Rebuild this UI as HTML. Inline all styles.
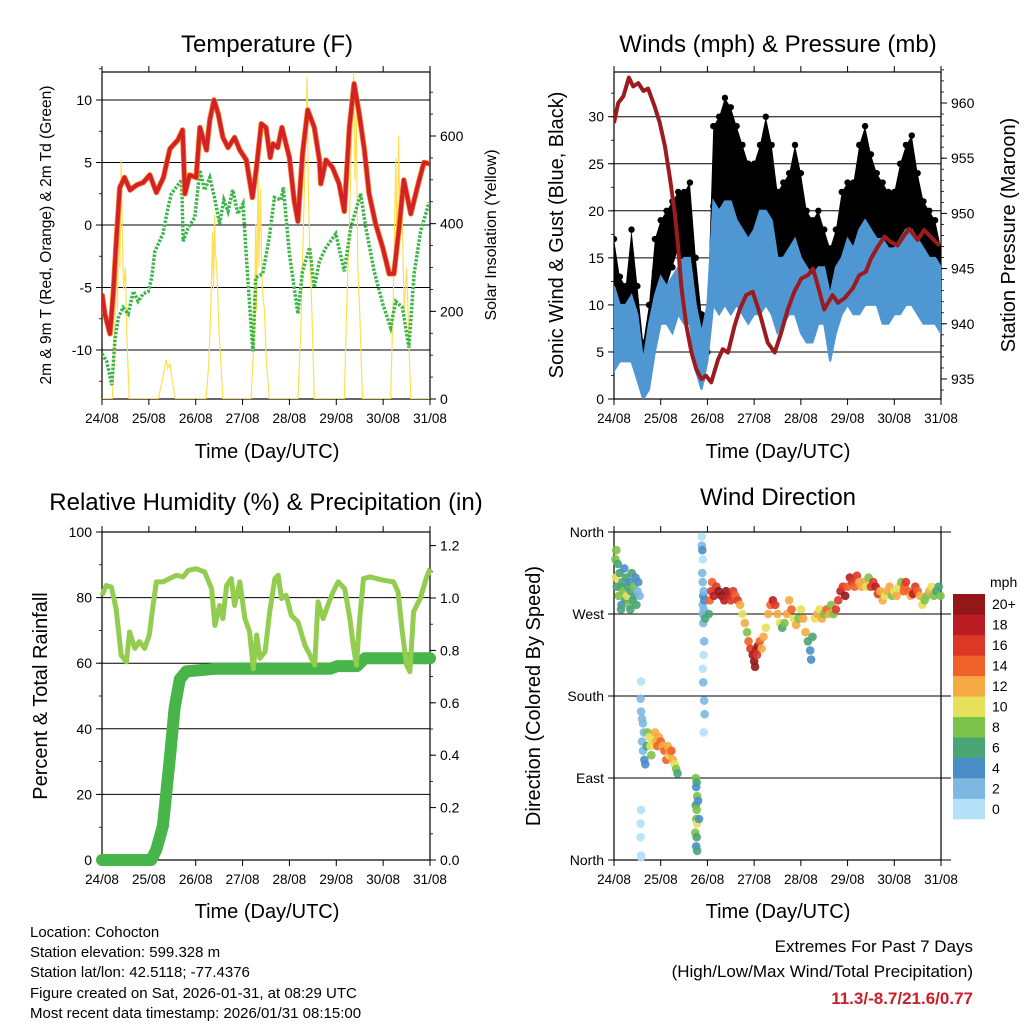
<!DOCTYPE html>
<html><head><meta charset="utf-8"><title>Station Meteogram</title>
<style>
html,body{margin:0;padding:0;background:#fff;}
svg{display:block;font-family:"Liberation Sans",Arial,sans-serif;}
</style></head>
<body>
<svg id="chart" width="1024" height="1024" viewBox="0 0 1024 1024" xmlns="http://www.w3.org/2000/svg">
<rect x="0" y="0" width="1024" height="1024" fill="#fff"/>
<g id="content"></g>
<text x="267" y="52" font-size="24" text-anchor="middle">Temperature (F)</text>
<text x="778" y="52" font-size="24" text-anchor="middle">Winds (mph) &amp; Pressure (mb)</text>
<text x="266" y="510" font-size="24" text-anchor="middle">Relative Humidity (%) &amp; Precipitation (in)</text>
<text x="778" y="505" font-size="24" text-anchor="middle">Wind Direction</text>
<text x="267" y="458" font-size="20" text-anchor="middle">Time (Day/UTC)</text>
<text x="778" y="458" font-size="20" text-anchor="middle">Time (Day/UTC)</text>
<text x="267" y="918" font-size="20" text-anchor="middle">Time (Day/UTC)</text>
<text x="778" y="918" font-size="20" text-anchor="middle">Time (Day/UTC)</text>
<text transform="translate(51,235) rotate(-90)" font-size="15.5" text-anchor="middle">2m &amp; 9m T (Red, Orange) &amp; 2m Td (Green)</text>
<text transform="translate(496,235) rotate(-90)" font-size="16" text-anchor="middle">Solar Insolation (Yellow)</text>
<text transform="translate(563,235) rotate(-90)" font-size="20" text-anchor="middle">Sonic Wind &amp; Gust (Blue, Black)</text>
<text transform="translate(1015,235) rotate(-90)" font-size="20" text-anchor="middle">Station Pressure (Maroon)</text>
<text transform="translate(47,696) rotate(-90)" font-size="20" text-anchor="middle">Percent &amp; Total Rainfall</text>
<text transform="translate(540,696) rotate(-90)" font-size="20" text-anchor="middle">Direction (Colored By Speed)</text>
<g font-size="15">
<text x="30" y="937">Location: Cohocton</text>
<text x="30" y="957">Station elevation: 599.328 m</text>
<text x="30" y="977">Station lat/lon: 42.5118; -77.4376</text>
<text x="30" y="998">Figure created on Sat, 2026-01-31, at 08:29 UTC</text>
<text x="30" y="1018">Most recent data timestamp: 2026/01/31 08:15:00</text>
</g>
<text x="973" y="952" font-size="17" text-anchor="end">Extremes For Past 7 Days</text>
<text x="973" y="977" font-size="17" text-anchor="end">(High/Low/Max Wind/Total Precipitation)</text>
<text x="973" y="1004" font-size="17" font-weight="bold" fill="#c8202a" text-anchor="end">11.3/-8.7/21.6/0.77</text>
</svg>
<script>
// ---------- data ----------
const dayLabels=["24/08","25/08","26/08","27/08","28/08","29/08","30/08","31/08"];
const tempT=[0,0.06,0.17,0.24,0.31,0.38,0.48,0.6,0.74,0.88,1.02,1.16,1.31,1.45,1.62,1.72,1.77,1.87,2.01,2.09,2.23,2.3,2.39,2.48,2.58,2.69,2.83,2.94,3.08,3.21,3.29,3.4,3.5,3.59,3.65,3.75,3.84,4.0,4.1,4.18,4.28,4.39,4.53,4.64,4.67,4.78,4.92,5.06,5.17,5.28,5.38,5.49,5.6,5.7,5.84,5.99,6.13,6.23,6.34,6.44,6.59,6.73,6.87,7.0];
const tempV=[-5.5,-7.1,-8.7,-5.5,-1,3,3.8,2.8,3.2,3.4,4,2.6,3.8,6.1,6.8,7.6,2.5,4,3.8,7.8,6,8.4,10,8.9,7,6.2,7,6,5.2,2.2,4.4,8.1,7.8,5.4,6.5,6.2,7.8,5.4,2,0.3,5.7,9.2,7.8,5.2,3.3,5.2,4.6,3.3,1.1,7.8,11.3,8.9,6,2.5,0.1,-1.8,-3.9,-3.9,-0.2,3.6,0.9,3,5,4.9];
const dewT=[0,0.1,0.21,0.28,0.35,0.45,0.56,0.67,0.77,0.88,0.99,1.06,1.13,1.3,1.41,1.48,1.7,1.73,1.84,1.98,2.09,2.19,2.3,2.4,2.51,2.6,2.69,2.79,2.9,3.01,3.11,3.22,3.28,3.43,3.57,3.68,3.82,3.87,4.0,4.18,4.28,4.43,4.53,4.64,4.78,4.99,5.17,5.31,5.52,5.63,5.81,5.99,6.16,6.27,6.41,6.55,6.66,6.8,6.98];
const dewV=[-10.3,-10.9,-12.8,-9,-7.4,-6.6,-7.1,-5.3,-6.1,-5.5,-5.3,-4.2,-2.1,-0.7,1.4,2.5,3.6,-1.3,-0.2,0.6,4.4,2.8,3.8,2.2,0.1,2,1.1,2.8,0.9,1.7,-4.2,-10.1,-4.2,-3.9,-1,2.2,2,3,-2.3,-7.1,-3.7,-1.8,-5,-2.9,-1.8,-0.7,-3.7,-0.2,2.5,-0.2,-3.7,-6.3,-8.2,-6.1,-6.6,-9.8,-3.9,-0.5,1.8];
const solarT=[0,0.22,0.27,0.3,0.33,0.36,0.38,0.41,0.43,0.46,0.5,0.53,0.58,1.2,1.3,1.37,1.4,1.45,1.5,1.57,2.22,2.28,2.32,2.36,2.38,2.4,2.42,2.45,2.5,2.58,3.18,3.25,3.28,3.3,3.33,3.35,3.38,3.42,3.47,3.5,3.57,4.18,4.24,4.3,4.35,4.38,4.4,4.43,4.48,4.53,5.17,5.22,5.28,5.33,5.37,5.4,5.43,5.46,5.5,5.56,6.16,6.22,6.27,6.3,6.33,6.36,6.4,6.45,6.5,6.59,7.0];
const solarV=[0,0,120,350,200,480,300,545,400,250,300,150,0,0,50,90,70,80,40,0,0,80,200,380,250,420,330,300,150,0,0,150,400,200,520,300,480,250,200,100,0,0,150,400,600,735,500,350,200,0,0,200,400,600,745,500,650,300,200,0,0,250,550,300,600,400,450,200,300,0,0];
const pressT=[0,0.09,0.2,0.32,0.41,0.52,0.63,0.73,0.87,0.98,1.09,1.19,1.30,1.37,1.44,1.55,1.66,1.76,1.87,1.97,2.08,2.23,2.33,2.44,2.58,2.69,2.83,2.97,3.11,3.29,3.44,3.58,3.72,3.86,4.01,4.15,4.26,4.36,4.5,4.68,4.79,4.93,5.11,5.25,5.39,5.5,5.65,5.79,5.93,6.07,6.21,6.32,6.5,6.64,6.82,6.97];
const pressV=[958.2,960.0,960.6,962.3,961.5,961.8,961.1,961.3,959.7,958.2,956.1,953.4,950.1,947.1,943.4,939.8,937.4,935.9,935.0,935.3,934.7,936.8,937.7,937.4,939.8,941.3,942.6,942.9,941.1,938.3,937.4,939.2,941.3,942.9,944.1,944.4,945.0,943.5,941.3,942.6,941.9,942.3,943.2,944.4,944.7,945.9,947.0,947.9,947.4,947.1,948.0,948.6,947.6,948.5,947.7,947.1];
const windT=[0,0.125,0.25,0.375,0.5,0.625,0.75,0.875,1,1.125,1.25,1.375,1.5,1.625,1.75,1.875,2,2.125,2.25,2.375,2.5,2.625,2.75,2.875,3,3.125,3.25,3.375,3.5,3.625,3.75,3.875,4,4.125,4.25,4.375,4.5,4.625,4.75,4.875,5,5.125,5.25,5.375,5.5,5.625,5.75,5.875,6,6.125,6.25,6.375,6.5,6.625,6.75,6.875,7];
const windLo=[3,4,4,4,2,0,1,5,8,8,7,9,8,8,3,1,4,10,9,10,9,10,9,8,9,9,10,9,7,8,9,9,7,6,6,8,8,4,7,9,10,9,9,10,10,10,8,8,9,9,10,10,9,8,8,8,7];
const windHi=[12,10,10,11,9,4,8,11,13,12,13,14,15,15,10,7,10,21,20,21,21,19,18,17,18,20,20,19,15,15,16,17,15,14,13,14,14,11,14,15,17,16,18,19,18,17,17,16,16,17,18,18,17,16,15,15,14];
const gustLo=[10,8,9,10,5,1,3,10,12,12,14,16,14,13,5,2,5,12,16,18,18,18,16,15,15,16,18,15,12,14,15,15,13,11,11,12,12,8,10,13,15,15,16,18,17,15,13,13,14,15,16,17,15,13,12,11,10];
const gustHi=[17,13,12,18,12,6,10,17,19,20,21,22,22,23,15,9,9,29,30,32,31,29,27,25,25,27,30,27,22,23,24,27,24,20,19,20,18,16,18,22,23,23,27,29,26,24,23,22,22,25,27,28,24,21,20,19,16];
const rhT=[0,0.09,0.2,0.3,0.41,0.52,0.59,0.7,0.8,0.91,1.01,1.09,1.16,1.3,1.44,1.59,1.73,1.84,2.01,2.19,2.34,2.41,2.51,2.58,2.66,2.76,2.83,2.94,3.05,3.15,3.23,3.3,3.37,3.48,3.58,3.69,3.76,3.83,3.93,4.04,4.18,4.33,4.44,4.54,4.61,4.72,4.82,4.93,5.04,5.18,5.29,5.36,5.43,5.5,5.58,5.72,5.86,6.0,6.22,6.32,6.4,6.5,6.57,6.65,6.79,6.93,7.0];
const rhV=[80.7,83.7,83.2,76.6,62.4,60.4,69.5,64.5,66.6,64.5,68.6,77.7,84.8,84.8,85.8,86.8,86.3,88.3,88.8,87.8,82.7,71.5,77.6,73.6,83.7,85.8,77.6,84.8,73.6,69.5,58.3,68.6,61.5,63.5,75.7,85.8,86.8,79.7,80.7,74.6,72.6,65.5,62.4,59.4,78.7,73.6,77.7,81.7,84.8,82.7,73.6,65.5,59.4,73.6,85.8,86.3,85.8,85.3,84.8,81.7,70.5,59.4,57.4,75.7,79.7,86.3,88.8];
const precT=[0,1.05,1.16,1.3,1.45,1.55,1.66,1.8,2.44,3.3,4.87,5.02,5.44,5.61,7.0];
const precV=[0,0,0.04,0.13,0.39,0.58,0.69,0.72,0.73,0.73,0.73,0.74,0.74,0.77,0.77];
const dirT=[0.03,0.04,0.06,0.08,0.1,0.12,0.14,0.16,0.18,0.2,0.22,0.24,0.26,0.28,0.3,0.32,0.34,0.36,0.38,0.4,0.42,0.44,0.46,0.48,0.5,0.52,0.55,0.05,0.15,0.35,
1.88,1.88,1.89,1.9,1.89,1.9,1.91,1.9,1.92,1.91,1.93,1.92,1.9,1.91,1.93,1.94,1.92,1.9,1.93,1.92,1.95,
0.58,0.57,0.57,0.58,0.57,0.58,0.58,
0.58,0.6,0.62,0.64,0.6,0.62,0.65,0.67,0.7,0.72,0.75,0.78,0.8,0.82,0.85,0.88,0.9,0.93,0.96,1.0,1.04,1.08,1.12,1.15,1.18,1.2,1.23,1.26,1.3,1.33,1.36,
1.75,1.77,1.76,1.78,1.75,1.77,1.76,1.78,1.74,1.77,1.76,1.78,1.82,1.8,
2.03,2.05,2.08,2.1,2.14,2.19,2.24,2.3,2.36,2.4,2.45,2.5,2.55,2.6,2.65,2.7,2.75,2.8,2.85,2.88,2.92,2.97,3.0,3.04,3.08,3.12,3.16,3.2,3.25,3.3,3.35,3.4,3.45,3.5,3.55,3.6,3.65,3.7,3.75,3.8,3.85,3.9,3.95,4.0,4.05,4.1,4.15,4.2,4.22,4.25,4.3,4.35,4.4,4.45,4.5,4.55,4.6,4.65,4.7,4.75,4.8,4.85,4.9,4.95,5.0,5.05,5.1,5.15,5.2,5.25,5.3,5.35,5.4,5.45,5.5,5.55,5.6,5.65,5.7,5.75,5.8,5.85,5.9,5.95,6.0,6.05,6.1,6.15,6.2,6.22,6.25,6.3,6.35,6.4,6.45,6.5,6.55,6.6,6.65,6.7,6.75,6.8,6.85,6.9,6.95,6.99,3.06,3.02];
const dirDeg=[330,310,300,325,290,315,300,280,305,295,320,285,310,290,300,280,305,295,315,285,300,290,310,280,295,305,290,340,275,275,
355,345,340,330,315,305,290,280,275,260,240,225,210,195,175,160,140,270,285,295,265,
196,177,40,55,25,5,3,
163,155,150,140,130,120,110,105,125,140,135,125,115,130,135,140,130,125,135,130,125,120,110,125,115,118,120,110,105,100,95,
90,85,80,70,60,55,45,40,30,25,15,10,45,65,
270,285,295,305,290,300,295,290,285,295,290,285,295,290,285,280,270,260,250,240,232,225,218,230,235,240,232,245,255,270,280,285,280,270,260,255,260,270,285,275,265,258,265,275,265,250,240,230,220,245,265,270,275,265,270,275,270,280,270,275,285,295,300,290,300,310,305,300,312,305,300,305,300,310,300,305,300,292,295,285,290,295,300,290,295,290,300,305,295,300,305,295,290,292,300,295,290,280,285,290,295,300,290,295,300,290,225,212];
const dirSpd=[8,10,6,6,8,6,7,4,6,8,4,6,7,10,6,8,4,6,6,7,8,6,4,6,3,4,2,8,6,6,
1,2,4,1,2,3,4,2,3,2,2,1,1,3,3,3,1,2,4,3,6,
1,2,1,1,1,1,1,
2,2,2,3,2,3,4,4,6,8,10,10,8,10,11,12,12,14,12,14,12,14,14,12,10,12,14,12,10,8,6,
8,6,4,8,6,8,8,10,8,6,4,6,4,4,
6,14,16,14,18,16,20,20,18,20,18,16,16,14,16,12,10,12,8,14,16,20,20,18,20,14,12,12,10,12,14,18,16,12,10,6,8,12,12,14,10,12,8,10,12,12,6,4,4,6,10,12,10,12,8,14,12,8,8,16,16,18,16,20,14,18,16,14,16,12,12,12,10,8,16,16,18,16,12,12,10,12,12,8,10,12,10,8,14,14,16,14,12,18,16,14,12,10,8,8,12,10,8,6,6,8,16,20];
const speedLabels=["0","2","4","6","8","10","12","14","16","18","20+"];
const speedColors=["#b4e1f7","#7db8e2","#4a8ec7","#4aa574","#7dc24b","#e7e05a","#f6aa43","#ef6229","#dd3826","#bb1c22","#931719"];

// ---------- helpers ----------
const NS="http://www.w3.org/2000/svg";
const root=document.getElementById('content');
function el(tag,attrs,parent){const e=document.createElementNS(NS,tag);for(const k in attrs)e.setAttribute(k,attrs[k]);(parent||root).appendChild(e);return e;}
function lin(d0,d1,r0,r1){return v=>r0+(v-d0)/(d1-d0)*(r1-r0);}
function pts(xs,ys,fx,fy){return xs.map((t,i)=>fx(t).toFixed(1)+","+fy(ys[i]).toFixed(1)).join(" ");}

function frame(name,x0,x1,y0,y1,fx){
  const g=el('g',{});
  
  
  for(let d=0;d<dayLabels.length;d++){
    const x=fx(d);
    const tb=el('line',{x1:x,x2:x,y1:y1,y2:y1+6,stroke:'#000','stroke-width':1},g);
    
    
    const tt=el('line',{x1:x,x2:x,y1:y0,y2:y0-6,stroke:'#000','stroke-width':1},g);
    
    
    const lb=el('text',{x:x,y:y1+24,'font-size':13.5,'text-anchor':'middle'},g);
    lb.textContent=dayLabels[d];
    
    
  }
  return g;
}
function yAxis(g,side,x,vals,labels,fy,x0,x1,grid,minorStep,minorRange){
  const dir=side==='left'?-1:1;
  if(minorStep){for(let v=minorRange[0];v<=minorRange[1]+1e-9;v+=minorStep){const y=fy(v);
    const m=el('line',{x1:x,x2:x+dir*3,y1:y,y2:y,stroke:'#000','stroke-width':0.8},g);
    
    }}
  vals.forEach((v,i)=>{const y=fy(v);
    const t=el('line',{x1:x,x2:x+dir*6,y1:y,y2:y,stroke:'#000','stroke-width':1},g);
    
    
    if(grid){const gl=el('line',{x1:x0,x2:x1,y1:y,y2:y,stroke:'#000','stroke-width':1},g);
      
      }
    const lb=el('text',{x:x+dir*10,y:y+5,'font-size':14,'text-anchor':side==='left'?'end':'start'},g);
    lb.textContent=labels[i];
    
    
  });
}
function border(g,x0,x1,y0,y1){const r=el('rect',{x:x0,y:y0,width:x1-x0,height:y1-y0,fill:'none',stroke:'#000','stroke-width':1.2},g);
  
  }
function clip(id,x0,x1,y0,y1){const c=el('clipPath',{id:id});const r=el('rect',{x:x0,y:y0,width:x1-x0,height:y1-y0},c);return 'url(#'+id+')';}

// ---------- Temperature panel ----------
{
  const x0=102,x1=430,y0=72,y1=399;
  const fx=lin(0,7,x0,x1), fy=lin(0,10,225,100), fs=lin(0,600,399,136);
  const g=frame('temperature',x0,x1,y0,y1,fx);
  yAxis(g,'left',x0,[-10,-5,0,5,10],["-10","-5","0","5","10"],fy,x0,x1,true,2.5,[-12.5,12.5]);
  yAxis(g,'right',x1,[0,200,400,600],["0","200","400","600"],fs,x0,x1,false,50,[0,700]);
  const cp=clip('clipT',x0,x1,y0,y1);
  const sl=el('polyline',{points:pts(solarT,solarV,fx,fs),fill:'none',stroke:'#ffdf4f','stroke-width':1.2,'clip-path':cp});
  
  
  const dl=el('polyline',{points:pts(dewT,dewV,fx,fy),fill:'none',stroke:'#3db54a','stroke-width':3.5,'stroke-dasharray':'2.5 1.5','clip-path':cp});
  
  
  const ol=el('polyline',{points:pts(tempT,tempV,fx,fy),fill:'none',stroke:'#f5862b','stroke-width':5.5,'stroke-linejoin':'round','clip-path':cp});
  
  
  const rl=el('polyline',{points:pts(tempT,tempV,fx,fy),fill:'none',stroke:'#d42027','stroke-width':4,'stroke-linejoin':'round','clip-path':cp});
  
  
  border(g,x0,x1,y0,y1);
}
// ---------- Winds panel ----------
{
  const x0=614,x1=941,y0=72,y1=399;
  const fx=lin(0,7,x0,x1), fy=lin(0,30,399,116.7), fp=lin(935,960,379,103);
  const g=frame('winds',x0,x1,y0,y1,fx);
  yAxis(g,'left',x0,[0,5,10,15,20,25,30],["0","5","10","15","20","25","30"],fy,x0,x1,true,2.5,[0,32.5]);
  yAxis(g,'right',x1,[935,940,945,950,955,960],["935","940","945","950","955","960"],fp,x0,x1,false,1,[934,963]);
  const cp=clip('clipW',x0,x1,y0,y1);
  const gp=windT.map((t,i)=>fx(t).toFixed(1)+","+fy(gustHi[i]).toFixed(1)).concat(windT.map((t,i)=>fx(t).toFixed(1)+","+fy(gustLo[i]).toFixed(1)).reverse()).join(" ");
  const gb=el('polygon',{points:gp,fill:'#000','clip-path':cp});
  
  
  windT.forEach((t,i)=>{[gustHi[i],gustLo[i],(gustHi[i]+gustLo[i])/2].forEach(v=>{
    const c=el('circle',{cx:fx(t),cy:fy(v),r:3.2,fill:'#000','clip-path':cp});
    
    });});
  const wp=windT.map((t,i)=>fx(t).toFixed(1)+","+fy(windHi[i]).toFixed(1)).concat(windT.map((t,i)=>fx(t).toFixed(1)+","+fy(windLo[i]).toFixed(1)).reverse()).join(" ");
  const wb=el('polygon',{points:wp,fill:'#4f97d3',stroke:'#4f97d3','stroke-width':2,'clip-path':cp});
  
  
  const pl=el('polyline',{points:pts(pressT,pressV,fx,fp),fill:'none',stroke:'#9b1b1e','stroke-width':4,'stroke-linejoin':'round','clip-path':cp});
  
  
  border(g,x0,x1,y0,y1);
}
// ---------- Humidity panel ----------
{
  const x0=102,x1=430,y0=532,y1=860;
  const fx=lin(0,7,x0,x1), fy=lin(0,100,860,532), fr=lin(0,1,860,598);
  const g=frame('humidity',x0,x1,y0,y1,fx);
  yAxis(g,'left',x0,[0,20,40,60,80,100],["0","20","40","60","80","100"],fy,x0,x1,true,10,[0,100]);
  yAxis(g,'right',x1,[0,0.2,0.4,0.6,0.8,1.0,1.2],["0.0","0.2","0.4","0.6","0.8","1.0","1.2"],fr,x0,x1,false,0.1,[0,1.2]);
  const pr=el('polyline',{points:pts(precT,precV,fx,fr),fill:'none',stroke:'#47b549','stroke-width':12,'stroke-linejoin':'round','stroke-linecap':'round'});
  
  
  const rh=el('polyline',{points:pts(rhT,rhV,fx,fy),fill:'none',stroke:'#92cd50','stroke-width':5,'stroke-linejoin':'round'});
  
  
  border(g,x0,x1,y0,y1);
}
// ---------- Wind direction panel ----------
{
  const x0=614,x1=941,y0=532,y1=860;
  const fx=lin(0,7,x0,x1), fy=lin(0,360,860,532);
  const g=frame('direction',x0,x1,y0,y1,fx);
  yAxis(g,'left',x0,[0,90,180,270,360],["North","East","South","West","North"],fy,x0,x1+10,true,0,null);
  dirT.forEach((t,i)=>{const k=Math.min(10,Math.floor(dirSpd[i]/2));
    const c=el('circle',{cx:fx(t),cy:fy(dirDeg[i]),r:4.3,fill:speedColors[k],'fill-opacity':0.9});
    
    });
  border(g,x0,x1,y0,y1);
  const cb=el('g',{});
  
  
  const ml=el('text',{x:990,y:587,'font-size':14},cb);
  ml.textContent='mph';
  
  
  const bh=225/speedColors.length;
  speedColors.forEach((c,i)=>{const y=819-(i+1)*bh;
    const r=el('rect',{x:953,y:y,width:32,height:bh+0.3,fill:c},cb);
    
    
    const t=el('text',{x:992,y:y+bh/2+5,'font-size':14},cb);
    t.textContent=speedLabels[i];
    
    });
}
</script>
</body></html>
